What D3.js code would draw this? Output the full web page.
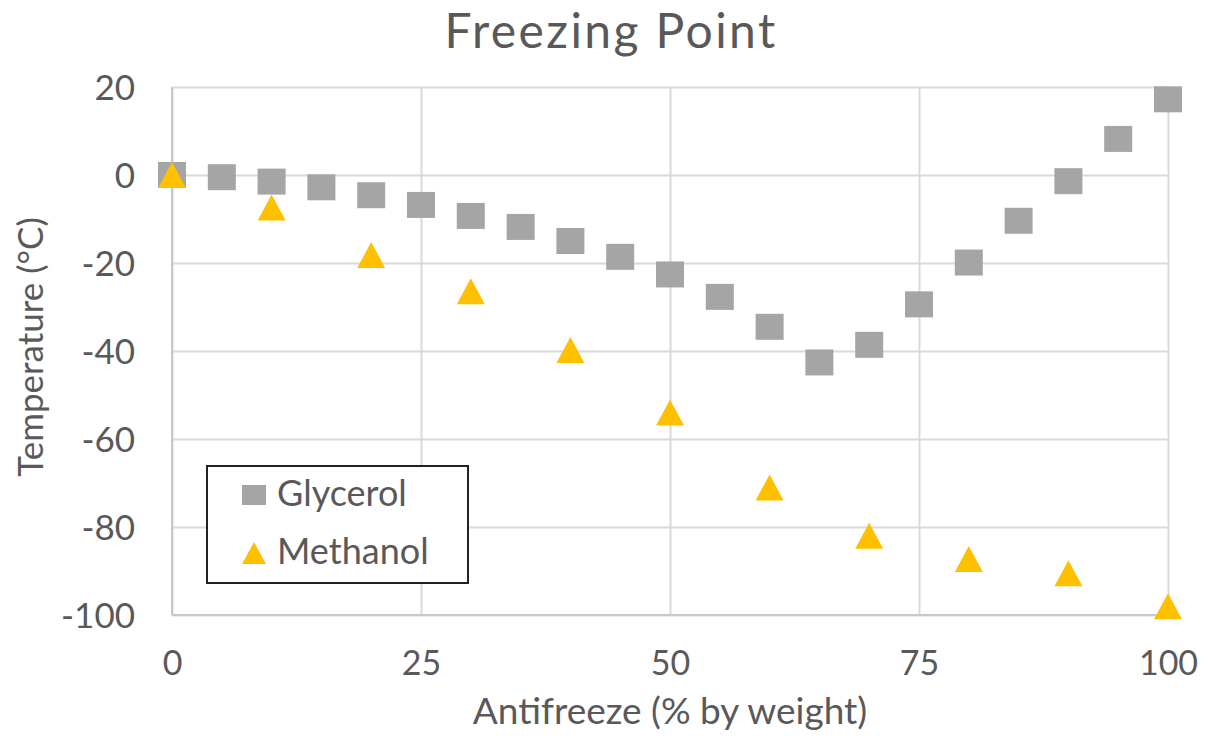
<!DOCTYPE html>
<html>
<head>
<meta charset="utf-8">
<script src="https://cdn.jsdelivr.net/npm/d3@7"></script>
<style>
  html, body { margin: 0; padding: 0; background: #fff; }
  svg { display: block; }
  text { font-family: Lato, "Open Sans", sans-serif; fill: #595959; }
</style>
</head>
<body>
<svg id="chart" width="1208" height="736"></svg>
<script>
// Freezing point of aqueous antifreeze solutions
const glycerolPct  = [0, 5, 10, 15, 20, 25, 30, 35, 40, 45, 50, 55, 60, 65, 70, 75, 80, 85, 90, 95, 100];
const glycerolTemp = [0, -0.5, -1.5, -2.8, -4.6, -6.8, -9.3, -11.8, -15, -18.6, -22.6, -27.7, -34.5, -42.6, -38.6, -29.4, -19.9, -10.4, -1.4, 8.2, 17.2];
const methanolPct  = [0, 10, 20, 30, 40, 50, 60, 70, 80, 90, 100];
const methanolTemp = [0, -7.4, -18.2, -26.4, -39.8, -54, -71, -82, -87.3, -90.5, -98];
const xTicks = [0, 25, 50, 75, 100];
const yTicks = [20, 0, -20, -40, -60, -80, -100];
const seriesNames = ["Glycerol", "Methanol"];
const seriesColors = ["#a5a5a5", "#ffc000"];

const svg = d3.select("#chart");
const plot = { left: 172, right: 1168, top: 87, bottom: 615 };
const font = "Lato, 'Open Sans', sans-serif";

const x = d3.scaleLinear().domain([0, 100]).range([plot.left, plot.right]);
const y = d3.scaleLinear().domain([-100, 20]).range([plot.bottom, plot.top]);
const plainNum = d => String(d);  // ASCII hyphen for negatives

// Title
svg.append("text")
  .attr("x", 611).attr("y", 48)
  .attr("text-anchor", "middle")
  .style("font-size", "48px")
  .style("letter-spacing", "2.4px")
  .text("Freezing Point");

// Gridlines
const grid = svg.append("g");
grid.append("g")
  .attr("transform", `translate(0,${plot.bottom})`)
  .call(d3.axisBottom(x).tickValues(xTicks).tickSize(-(plot.bottom - plot.top)).tickFormat(""))
  .call(g => g.select(".domain").remove())
  .call(g => g.selectAll("line").attr("stroke", "#d9d9d9").attr("stroke-width", 2));
grid.append("g")
  .attr("transform", `translate(${plot.left},0)`)
  .call(d3.axisLeft(y).tickValues(yTicks).tickSize(-(plot.right - plot.left)).tickFormat(""))
  .call(g => g.select(".domain").remove())
  .call(g => g.selectAll("line").attr("stroke", "#d9d9d9").attr("stroke-width", 2));

// Axis lines (left and bottom)
svg.append("line")
  .attr("x1", plot.left).attr("x2", plot.left)
  .attr("y1", plot.top).attr("y2", plot.bottom)
  .attr("stroke", "#c8c8c8").attr("stroke-width", 2);
svg.append("line")
  .attr("x1", plot.left).attr("x2", plot.right)
  .attr("y1", plot.bottom).attr("y2", plot.bottom)
  .attr("stroke", "#c8c8c8").attr("stroke-width", 2);

// Tick labels
const xAxis = svg.append("g")
  .attr("transform", `translate(0,${plot.bottom})`)
  .call(d3.axisBottom(x).tickValues(xTicks).tickFormat(plainNum).tickSize(0).tickPadding(0));
xAxis.select(".domain").remove();
xAxis.selectAll("text")
  .attr("y", 60).attr("dy", null)
  .style("font-size", "34px").attr("fill", "#595959")
  .style("font-family", font);

const yAxis = svg.append("g")
  .attr("transform", `translate(135,0)`)
  .call(d3.axisLeft(y).tickValues(yTicks).tickFormat(plainNum).tickSize(0).tickPadding(0));
yAxis.select(".domain").remove();
yAxis.selectAll("text")
  .attr("x", 0).attr("dy", "12.5")
  .attr("text-anchor", "end")
  .style("font-size", "35px").attr("fill", "#595959")
  .style("font-family", font);

// Axis titles
svg.append("text")
  .attr("x", 670).attr("y", 724)
  .attr("text-anchor", "middle")
  .style("font-size", "37px")
  .text("Antifreeze (% by weight)");
svg.append("text")
  .attr("transform", "translate(43,347) rotate(-90)")
  .attr("text-anchor", "middle")
  .style("font-size", "35px")
  .text("Temperature (°C)");

// Markers
const sq = 28;
svg.append("g").selectAll("rect")
  .data(glycerolPct.map((p, i) => [p, glycerolTemp[i]]))
  .join("rect")
  .attr("x", d => x(d[0]) - sq / 2)
  .attr("y", d => y(d[1]) - 13)
  .attr("width", sq).attr("height", 26)
  .attr("fill", seriesColors[0]);

const tri = (cx, cy, w, h) => `M${cx - w / 2},${cy + h / 2}L${cx},${cy - h / 2}L${cx + w / 2},${cy + h / 2}Z`;
svg.append("g").selectAll("path")
  .data(methanolPct.map((p, i) => [p, methanolTemp[i]]))
  .join("path")
  .attr("d", d => tri(x(d[0]), y(d[1]), 28, 26))
  .attr("fill", seriesColors[1]);

// Legend
const legend = svg.append("g");
legend.append("rect")
  .attr("x", 207).attr("y", 466)
  .attr("width", 261).attr("height", 117)
  .attr("fill", "#fff").attr("stroke", "#222").attr("stroke-width", 2);
legend.append("rect")
  .attr("x", 242).attr("y", 485).attr("width", 24).attr("height", 20)
  .attr("fill", seriesColors[0]);
legend.append("path")
  .attr("d", tri(254, 553, 24, 22))
  .attr("fill", seriesColors[1]);
seriesNames.forEach((name, i) => {
  legend.append("text")
    .attr("x", 277).attr("y", 506 + i * 58)
    .style("font-size", "36px")
    .text(name);
});
</script>
</body>
</html>
